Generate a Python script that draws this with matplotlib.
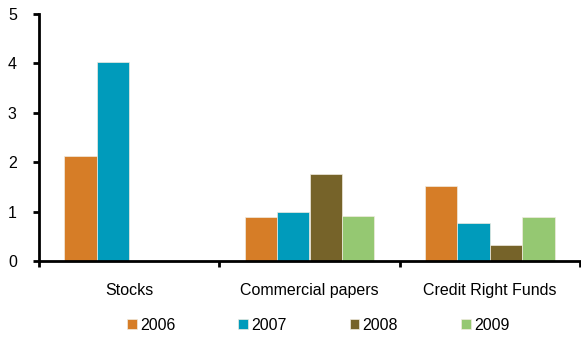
import numpy as np
import matplotlib.pyplot as plt

plt.rcParams['font.family'] = ['Liberation Sans', 'DejaVu Sans']

categories = ["Stocks", "Commercial papers", "Credit Right Funds"]
years = ["2006", "2007", "2008", "2009"]
values = {
    "2006": [2.13, 0.90, 1.52],
    "2007": [4.02, 0.99, 0.76],
    "2008": [0.0, 1.77, 0.33],
    "2009": [0.0, 0.92, 0.89],
}
colors = ["#D67D27", "#009BBB", "#766329", "#95C872"]

fig = plt.figure(figsize=(5.81, 3.38), dpi=100)
ax = fig.add_axes([39 / 581, 77 / 338, 541 / 581, 247 / 338])

x = np.arange(len(categories))
width = 0.18
for i, (yr, c) in enumerate(zip(years, colors)):
    ax.bar(x + (i - 1.5) * width, values[yr], width, color=c,
           edgecolor="#F0EBE0", linewidth=0.5, label=yr, zorder=2)

ax.set_xlim(-0.5, 2.5)
ax.set_ylim(0, 5)
ax.set_yticks(range(6))
ax.set_xticks([-0.5, 0.5, 1.5, 2.5])
ax.set_xticklabels([])
ax.set_xticks(x, minor=True)
ax.set_xticklabels(categories, minor=True)
ax.tick_params(axis="x", which="minor", length=0, pad=16, labelsize=11.5)
ax.tick_params(axis="x", which="major", length=4, width=2, direction="out")
ax.tick_params(axis="y", length=4, width=2, direction="out", labelsize=11.5, pad=12)

for side in ["top", "right"]:
    ax.spines[side].set_visible(False)
for side in ["left", "bottom"]:
    ax.spines[side].set_linewidth(2)

ax.legend(loc="upper center", bbox_to_anchor=(0.516, -0.205), ncol=4, frameon=False,
          fontsize=11.5, handlelength=0.6, handleheight=0.6, handletextpad=0.2,
          columnspacing=3.95, borderaxespad=0)

fig.savefig("out.png", dpi=100)
